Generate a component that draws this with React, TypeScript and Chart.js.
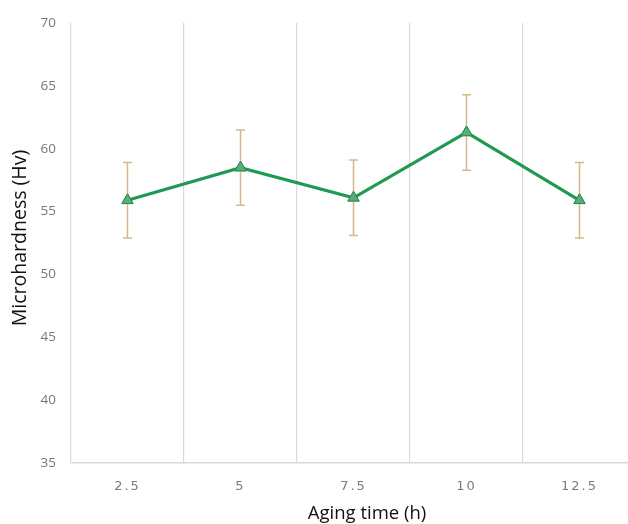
import React, { useEffect, useRef } from "react";
import { Chart, registerables } from "chart.js";

Chart.register(...registerables);

const categories = ["2.5", "5", "7.5", "10", "12.5"];
const hardness = [55.9, 58.5, 56.1, 61.3, 55.9];
const errors = [3, 3, 3, 3, 3];
const yTicks = [35, 40, 45, 50, 55, 60, 65, 70];
const xTitle = "Aging time (h)";
const yTitle = "Microhardness (Hv)";

const errorBarPlugin = {
  id: "errorBars",
  afterDatasetsDraw(chart: any) {
    const { ctx, scales } = chart;
    const xs = scales.x;
    const ys = scales.y;
    ctx.save();
    ctx.strokeStyle = "#d8b888";
    ctx.lineWidth = 1.5;
    hardness.forEach((v, i) => {
      const x = xs.getPixelForValue(i);
      const yt = ys.getPixelForValue(v + errors[i]);
      const yb = ys.getPixelForValue(v - errors[i]);
      ctx.beginPath();
      ctx.moveTo(x, yt);
      ctx.lineTo(x, yb);
      ctx.moveTo(x - 4.5, yt);
      ctx.lineTo(x + 4.5, yt);
      ctx.moveTo(x - 4.5, yb);
      ctx.lineTo(x + 4.5, yb);
      ctx.stroke();
    });
    ctx.restore();
  },
};

const redrawPointsPlugin = {
  id: "pointsOnTop",
  afterDraw(chart: any) {
    const meta = chart.getDatasetMeta(0);
    meta.data.forEach((p: any) => p.draw(chart.ctx, chart.chartArea));
  },
};

const spacedLabelsPlugin = {
  id: "spacedLabels",
  afterLayout(chart: any) {
    const scale = chart.scales.x;
    if (!scale || scale.__spaced) return;
    const orig = scale.drawLabels.bind(scale);
    scale.drawLabels = (area: any) => {
      const ctx = chart.ctx;
      ctx.save();
      ctx.letterSpacing = "2px";
      orig(area);
      ctx.restore();
    };
    scale.__spaced = true;
  },
};

const axisTitlesPlugin = {
  id: "axisTitles",
  afterDraw(chart: any) {
    const ctx = chart.ctx;
    ctx.save();
    ctx.fillStyle = "#111";
    ctx.font = "18.5px 'Open Sans'";
    ctx.textAlign = "center";
    ctx.textBaseline = "alphabetic";
    ctx.fillText(xTitle, 367, 519);
    ctx.translate(20, 238);
    ctx.rotate(-Math.PI / 2);
    ctx.font = "19.5px 'Open Sans'";
    ctx.textBaseline = "middle";
    ctx.fillText(yTitle, 0, 0);
    ctx.restore();
  },
};

export default function App() {
  const ref = useRef<HTMLCanvasElement>(null);
  useEffect(() => {
    if (!ref.current) return;
    const chart = new Chart(ref.current, {
      type: "line",
      data: {
        labels: categories,
        datasets: [
          {
            data: hardness,
            borderColor: "#1f9a52",
            borderWidth: 3.2,
            pointStyle: "triangle",
            pointRadius: 6.5,
            pointBackgroundColor: "#5aac78",
            pointBorderColor: "#2e8a55",
            pointBorderWidth: 1,
            tension: 0,
          },
        ],
      },
      options: {
        animation: false,
        responsive: false,
        layout: { padding: { top: 22, right: 14, left: 0, bottom: 0 } },
        plugins: { legend: { display: false }, tooltip: { enabled: false } },
        scales: {
          x: {
            type: "category",
            offset: true,
            grid: { display: true, offset: true, color: "#d9d9d9", lineWidth: 1.2, drawTicks: false },
            border: { display: true, color: "#d9d9d9", width: 1.5 },
            ticks: { color: "#7a7a7a", font: { family: "DejaVu Sans", size: 13 }, padding: 16 },
            title: { display: false, text: xTitle },
            afterFit(axis: any) {
              axis.height = 61;
            },
          },
          y: {
            min: 35,
            max: 70,
            afterBuildTicks(axis: any) {
              axis.ticks = yTicks.map((v) => ({ value: v }));
            },
            grid: { display: false, drawTicks: false },
            border: { display: false },
            ticks: { color: "#777", font: { family: "Open Sans", size: 13.5 }, padding: 15 },
            title: { display: false, text: yTitle },
            afterFit(axis: any) {
              axis.width = 71;
            },
          },
        },
      },
      plugins: [errorBarPlugin, redrawPointsPlugin, spacedLabelsPlugin, axisTitlesPlugin],
    });
    return () => chart.destroy();
  }, []);
  return (
    <div
      style={{
        position: "absolute",
        left: 0,
        top: 0,
        width: 628,
        height: 524,
        overflow: "hidden",
        background: "#fff",
      }}
    >
      <canvas ref={ref} width={650} height={524} style={{ display: "block" }} />
    </div>
  );
}
